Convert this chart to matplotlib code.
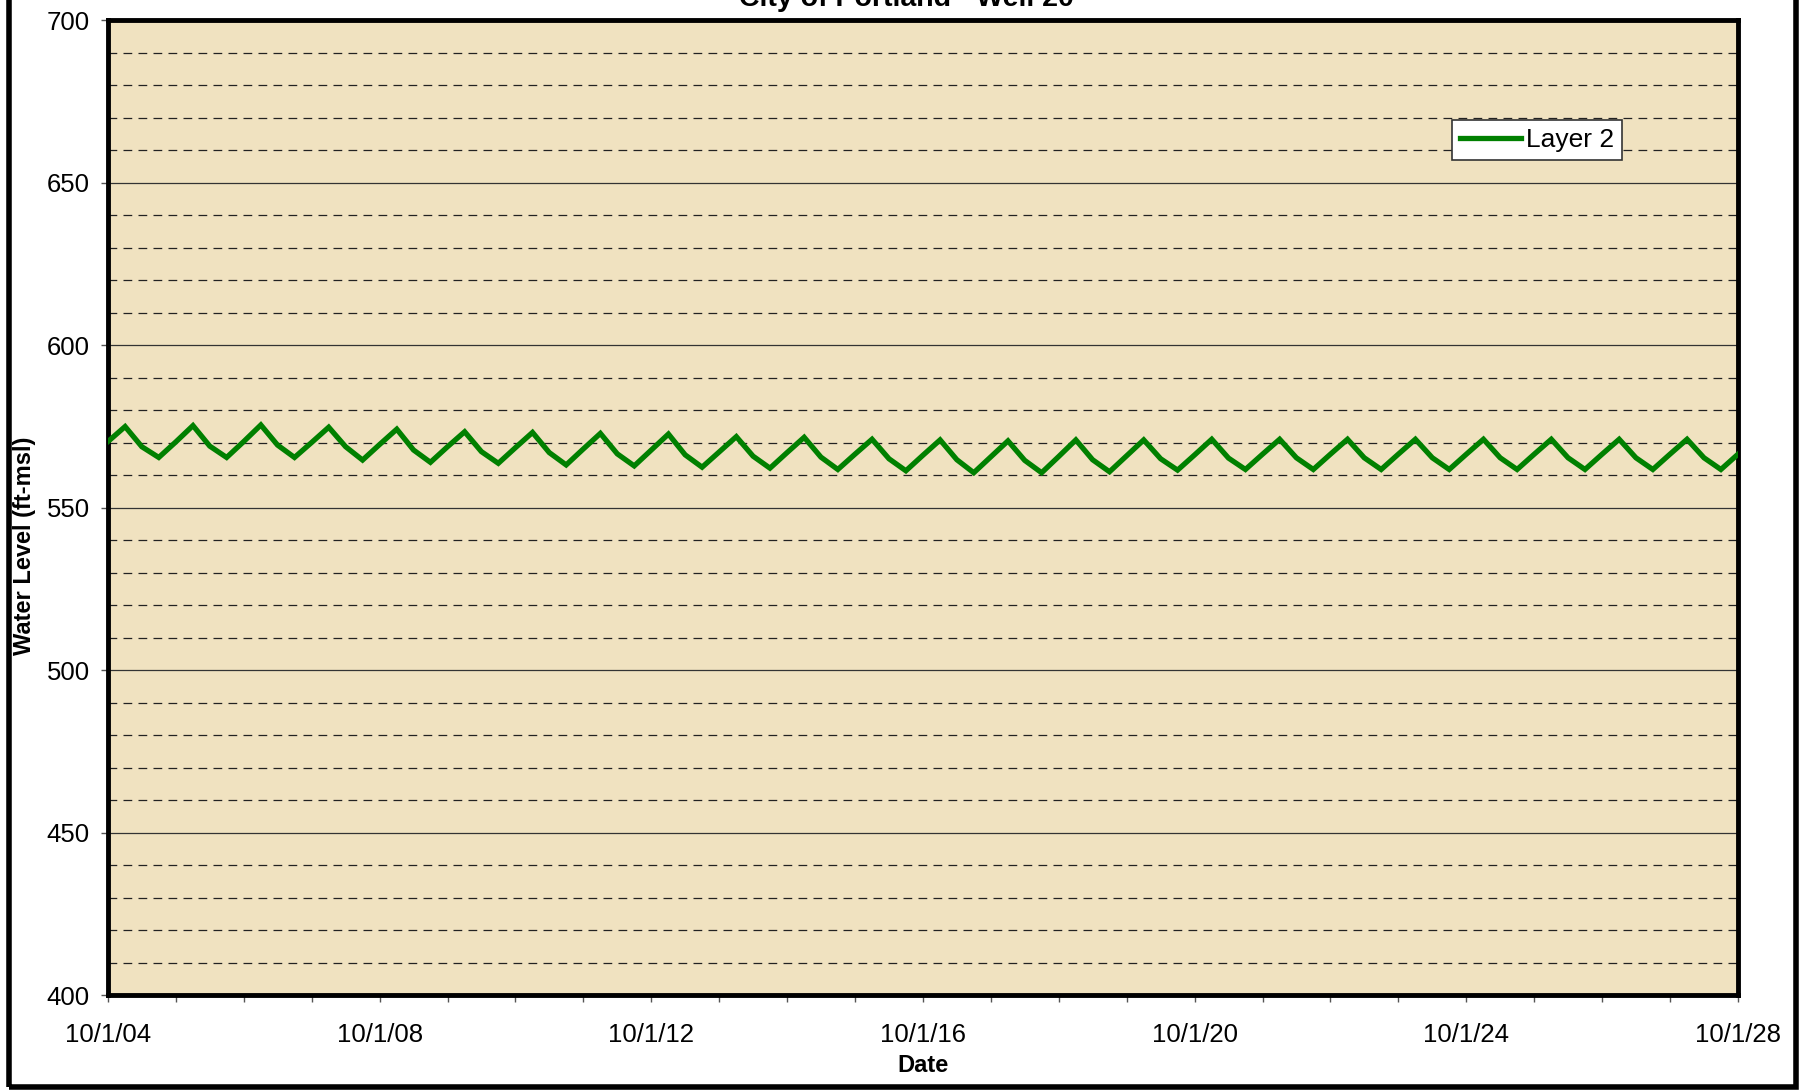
import datetime as dt
import matplotlib
matplotlib.use("Agg")
import matplotlib.pyplot as plt
import matplotlib.dates as mdates
from matplotlib.patches import Rectangle
from matplotlib.ticker import MultipleLocator

plt.rcParams['font.family'] = ['Liberation Sans', 'DejaVu Sans']

# quarterly water level, starting 10/1/04 (Oct, Jan, Apr, Jul ...)
start_level = [570.3]
jan_peak = [574.9, 575.2, 575.4, 574.7, 574.1, 573.3, 573.1, 572.8, 572.6, 571.8, 571.6, 571.0,
            570.8, 570.5, 570.8, 570.8, 571.0, 571.0, 571.0, 571.0, 571.0, 571.0, 571.0, 571.0]
apr_level = [568.7, 568.9, 569.2, 568.7, 567.7, 567.2, 566.9, 566.5, 566.2, 565.8, 565.5, 565.0,
             564.7, 564.5, 564.7, 565.0, 565.2, 565.3, 565.3, 565.3, 565.3, 565.3, 565.3, 565.3]
jul_trough = [565.4, 565.4, 565.4, 564.6, 563.9, 563.6, 563.1, 562.8, 562.4, 562.1, 561.7, 561.3,
              560.7, 560.7, 561.0, 561.5, 561.7, 561.7, 561.7, 561.7, 561.7, 561.7, 561.7, 561.7]
oct_level = [570.2, 570.3, 570.0, 569.4, 568.7, 568.4, 568.0, 567.7, 567.1, 566.9, 566.4, 566.1,
             565.6, 565.7, 565.9, 566.2, 566.4, 566.4, 566.4, 566.4, 566.4, 566.4, 566.4, 566.4]

tick_years = [2004, 2008, 2012, 2016, 2020, 2024, 2028]
tick_labels = ['10/1/04', '10/1/08', '10/1/12', '10/1/16', '10/1/20', '10/1/24', '10/1/28']

dates = [dt.date(2004, 10, 1)]
levels = list(start_level)
for i in range(len(jan_peak)):
    yr = 2005 + i
    dates += [dt.date(yr, 1, 1), dt.date(yr, 4, 1), dt.date(yr, 7, 1), dt.date(yr, 10, 1)]
    levels += [jan_peak[i], apr_level[i], jul_trough[i], oct_level[i]]

fig = plt.figure(figsize=(18.05, 10.91), dpi=100)
fig.patch.set_facecolor('white')
ax = fig.add_axes([108 / 1805, 1 - 995 / 1091, (1738 - 108) / 1805, (995 - 20) / 1091])
ax.set_facecolor('#F0E2C0')

ax.plot(dates, levels, color='#008000', lw=3.8, label='Layer 2', solid_joinstyle='miter', zorder=3)

ax.set_xlim(dt.date(2004, 10, 1), dt.date(2028, 10, 1))
ax.set_ylim(400, 700)

ax.set_xticks([mdates.date2num(dt.date(y, 10, 1)) for y in tick_years])
ax.set_xticklabels(tick_labels)
ax.set_xticks([mdates.date2num(dt.date(y, 10, 1)) for y in range(2004, 2029)], minor=True)
ax.yaxis.set_major_locator(MultipleLocator(50))
ax.yaxis.set_minor_locator(MultipleLocator(10))

ax.grid(which='major', axis='y', color='#333333', lw=0.9, zorder=1)
ax.grid(which='minor', axis='y', color='#222222', lw=0.9, ls=(0, (7, 5)), zorder=1)
ax.grid(which='major', axis='x', visible=False)

ax.tick_params(axis='both', which='major', labelsize=18.5, direction='out', length=5, width=1, color='#555555')
ax.tick_params(axis='x', which='major', pad=15)
ax.tick_params(axis='y', which='major', pad=8)
ax.tick_params(axis='y', which='minor', length=0)
ax.tick_params(axis='x', which='minor', direction='out', length=5, width=1, color='#555555')
for s in ax.spines.values():
    s.set_linewidth(3.5)
    s.set_color('black')

ax.set_xlabel('Date', fontsize=17, fontweight='bold')
ax.xaxis.set_label_coords((108 + 1738) / 2 / 1805, 1 - 1054 / 1091, transform=fig.transFigure)
ax.set_ylabel('Water Level (ft-msl)', fontsize=17, fontweight='bold')
ax.yaxis.set_label_coords(36 / 1805, 0.5, transform=fig.transFigure)

leg = ax.legend(loc='upper left', bbox_to_anchor=((1452 - 108) / 1630, 1 - (120 - 20) / 975),
                fontsize=19, frameon=True, fancybox=False, handlelength=2.3,
                borderpad=0.3, handletextpad=0.2, borderaxespad=0)
leg.get_frame().set_edgecolor('#333333')
leg.get_frame().set_linewidth(1.2)
leg.get_frame().set_facecolor('white')
leg.get_frame().set_alpha(1)

fig.text(906 / 1805, 1 - 6 / 1091, 'City of Portland - Well 20', ha='center',
         va='baseline', fontsize=20.5, fontweight='bold')

fig.patches.append(Rectangle((9 / 1805, 4 / 1091), (1796 - 9) / 1805, 1.1, transform=fig.transFigure,
                             fill=False, edgecolor='black', lw=4))

fig.savefig('out.png', dpi=100)
